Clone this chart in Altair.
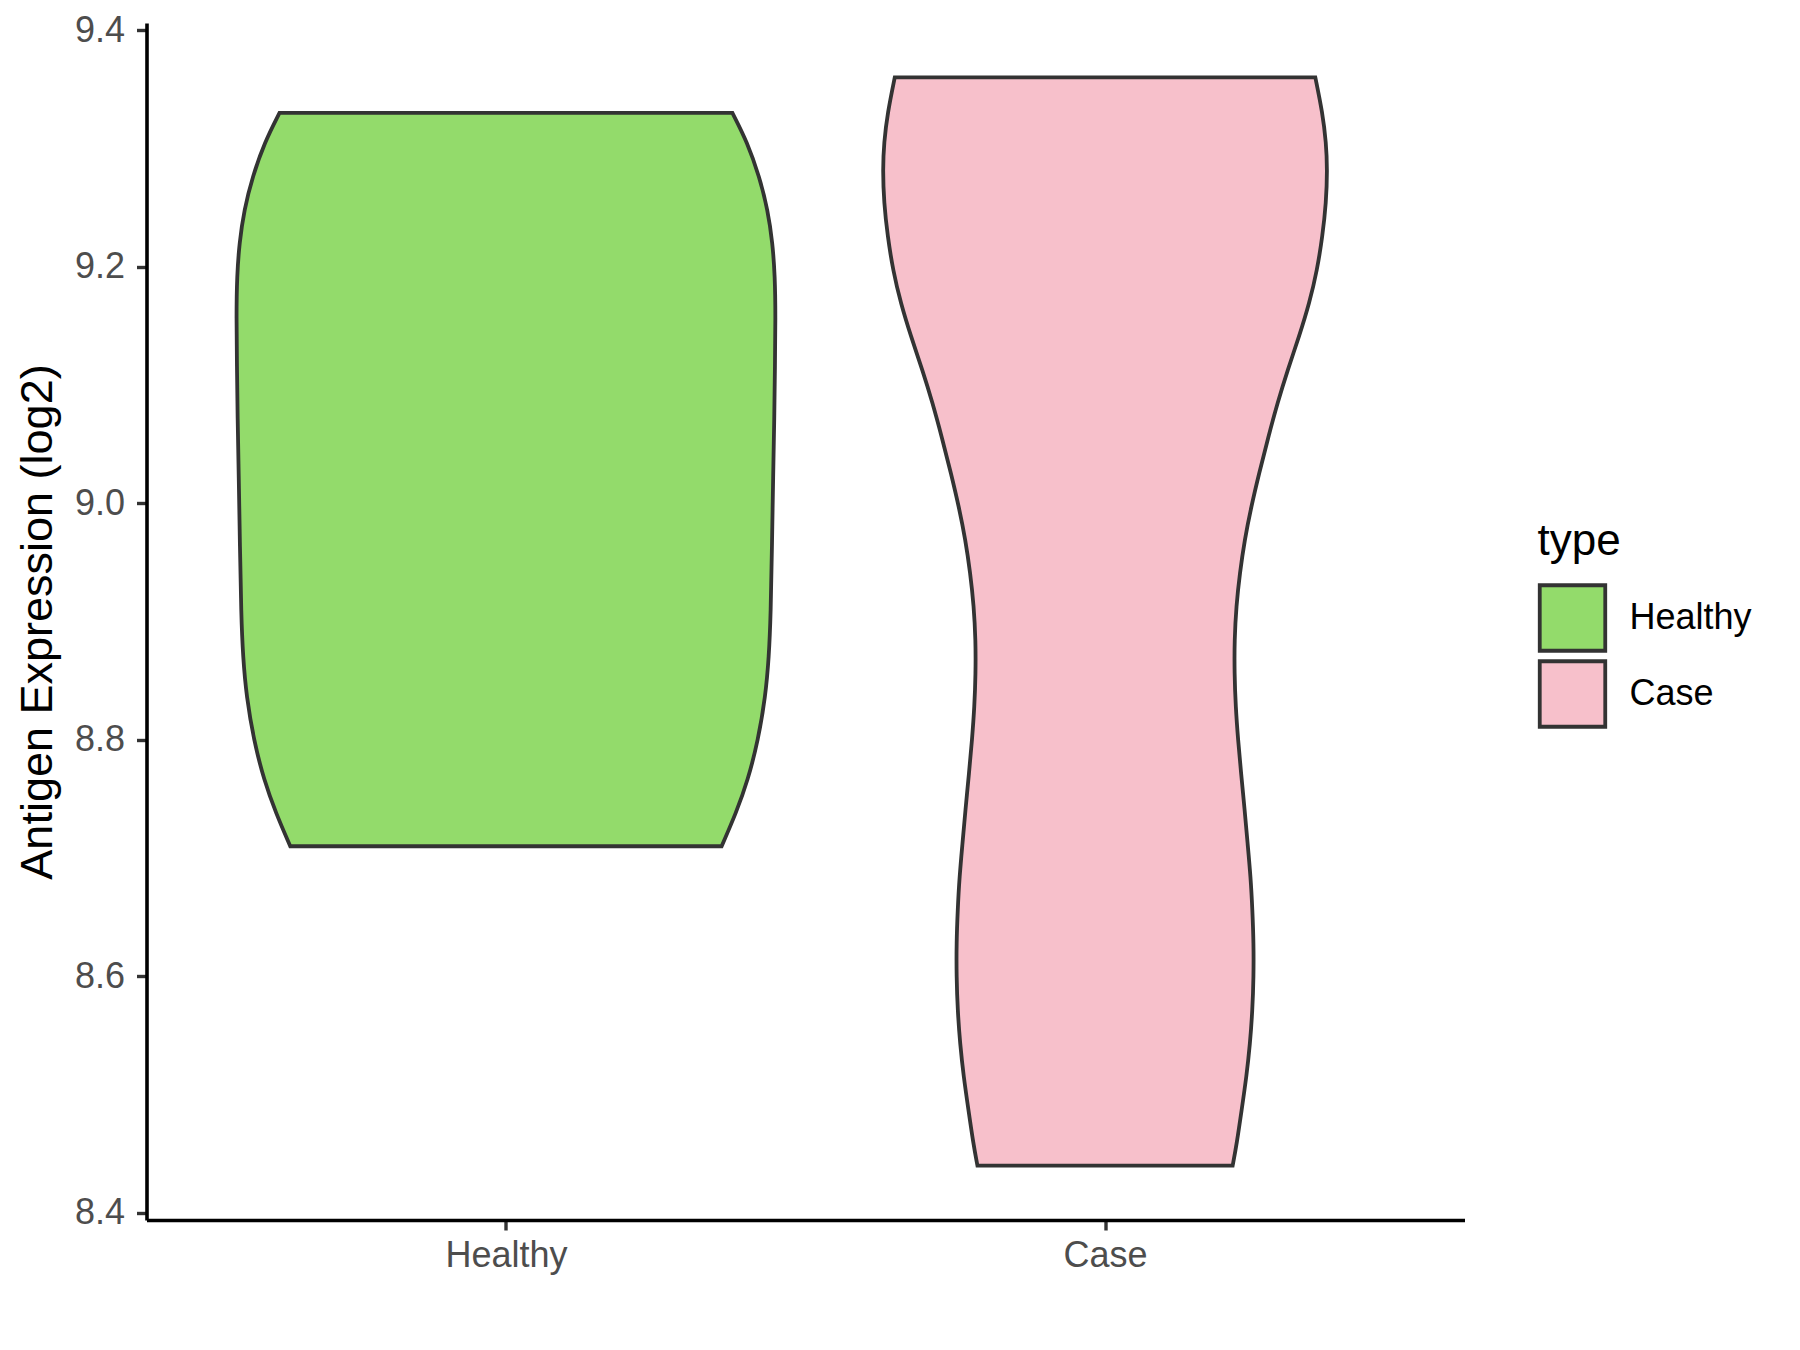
import altair as alt
import pandas as pd

# ---- data ----
categories = ["Healthy", "Case"]
positions = [1, 2]
fill_colors = ["#93DB6B", "#F7C0CB"]

healthy_value = [9.330, 9.305, 9.276, 9.248, 9.220, 9.192, 9.158, 9.116, 9.073, 9.023,
                 8.963, 8.907, 8.870, 8.836, 8.800, 8.766, 8.738, 8.710]
healthy_halfwidth = [0.378, 0.403, 0.423, 0.437, 0.445, 0.449, 0.450, 0.449, 0.448, 0.446,
                     0.444, 0.442, 0.439, 0.433, 0.421, 0.404, 0.384, 0.360]

case_value = [9.360, 9.330, 9.305, 9.282, 9.254, 9.226, 9.197, 9.169, 9.141, 9.113,
              9.085, 9.055, 9.025, 8.997, 8.969, 8.941, 8.913, 8.884, 8.856, 8.828,
              8.800, 8.772, 8.741, 8.712, 8.684, 8.656, 8.628, 8.600, 8.571, 8.543,
              8.515, 8.487, 8.459, 8.440]
case_halfwidth = [0.351, 0.363, 0.369, 0.371, 0.369, 0.363, 0.354, 0.341, 0.324, 0.305,
                  0.288, 0.272, 0.257, 0.244, 0.233, 0.225, 0.219, 0.216, 0.216, 0.218,
                  0.222, 0.227, 0.233, 0.238, 0.243, 0.246, 0.248, 0.248, 0.246, 0.242,
                  0.236, 0.228, 0.220, 0.213]

y_ticks = [8.4, 8.6, 8.8, 9.0, 9.2, 9.4]

rows = []
for cat, pos, vals, hws in [("Healthy", 1, healthy_value, healthy_halfwidth),
                            ("Case", 2, case_value, case_halfwidth)]:
    for v, h in zip(vals, hws):
        rows.append({"type": cat, "value": v, "lo": pos - h, "hi": pos + h})
df = pd.DataFrame(rows)

FONT = "Liberation Sans"

chart = alt.Chart(df).mark_area(
    orient="horizontal",
    interpolate="basis",
    stroke="#333333",
    strokeWidth=3.8,
    opacity=1,
    fillOpacity=1,
).encode(
    y=alt.Y("value:Q",
            scale=alt.Scale(domain=[8.394, 9.406], nice=False, zero=False),
            axis=alt.Axis(values=y_ticks, format=".1f", title="Antigen Expression (log2)",
                          grid=False, domainColor="black", domainWidth=3.6,
                          tickColor="#333333", tickWidth=3.4, tickSize=10,
                          labelFont=FONT, labelFontSize=36, labelColor="#4D4D4D",
                          labelPadding=12,
                          titleFont=FONT, titleFontSize=45, titleColor="black",
                          titleFontWeight="normal", titlePadding=14)),
    x=alt.X("lo:Q",
            stack=None,
            scale=alt.Scale(domain=[0.4, 2.6], nice=False, zero=False),
            axis=alt.Axis(values=positions, labelExpr="datum.value == 1 ? 'Healthy' : 'Case'",
                          title=None, grid=False, domainColor="black", domainWidth=3.6,
                          tickColor="#333333", tickWidth=3.4, tickSize=10,
                          labelFont=FONT, labelFontSize=36, labelColor="#4D4D4D",
                          labelPadding=8)),
    x2="hi:Q",
    detail="type:N",
    color=alt.Color("type:N",
                    scale=alt.Scale(domain=categories, range=fill_colors),
                    legend=alt.Legend(title="type", orient="none",
                                      legendX=1391, legendY=497,
                                      titleFont=FONT, titleFontSize=44,
                                      titleFontWeight="normal", titleColor="black",
                                      titlePadding=19,
                                      labelFont=FONT, labelFontSize=36, labelColor="black",
                                      labelOffset=22, labelLimit=400,
                                      symbolType="square", symbolSize=4290,
                                      symbolStrokeColor="#333333", symbolStrokeWidth=3.8,
                                      symbolOpacity=1, rowPadding=-21, padding=0)),
).properties(
    width=1318,
    height=1197,
    autosize=alt.AutoSizeParams(type="none"),
    padding={"left": 138.5, "top": 15, "right": 327, "bottom": 120},
).configure_view(strokeWidth=0)

chart.save("out.html", embed_options={"renderer": "svg", "actions": False})
